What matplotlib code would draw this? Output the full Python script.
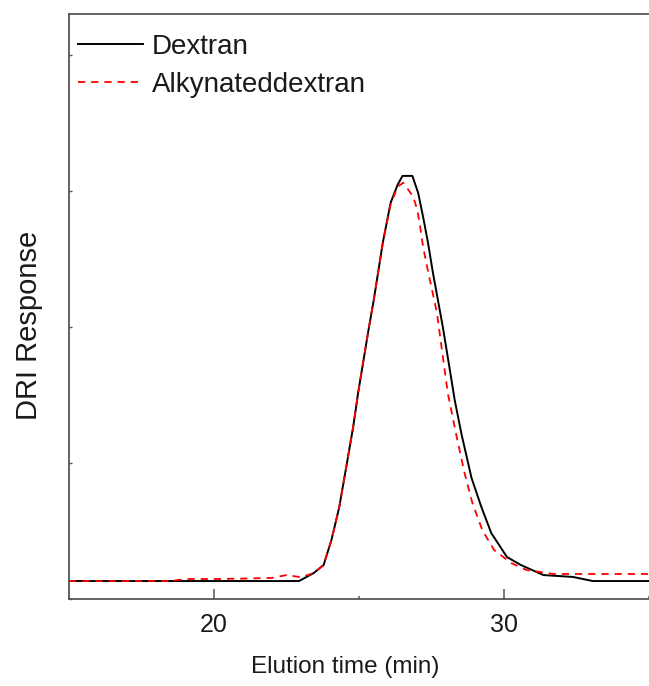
import matplotlib
matplotlib.use("Agg")
import matplotlib.pyplot as plt
import numpy as np

# ---- data ----
dextran_t = [15.0, 22.93, 23.44, 23.78, 24.05, 24.32, 24.56, 24.80, 24.97, 25.14,
             25.31, 25.51, 25.82, 26.09, 26.33, 26.50, 26.84, 27.04, 27.21, 27.38,
             27.55, 27.72, 27.89, 28.06, 28.30, 28.54, 28.88, 29.22, 29.56, 30.10,
             30.58, 31.36, 32.38, 33.06, 35.0]
dextran_r = [0.132, 0.132, 0.191, 0.25, 0.434, 0.676, 0.97, 1.265, 1.515, 1.735,
             1.956, 2.199, 2.618, 2.912, 3.044, 3.11, 3.11, 2.985, 2.809, 2.618,
             2.397, 2.199, 2.0, 1.779, 1.463, 1.206, 0.89, 0.676, 0.485, 0.309,
             0.25, 0.176, 0.162, 0.132, 0.132]

alk_t = [15.0, 18.5, 19.0, 20.0, 21.0, 22.0, 22.5, 23.0, 23.44, 23.78, 24.05,
         24.32, 24.56, 24.80, 24.97, 25.14, 25.31, 25.51, 25.82, 26.09, 26.33,
         26.53, 26.87, 27.01, 27.11, 27.21, 27.35, 27.52, 27.69, 27.86, 28.06,
         28.37, 28.64, 28.91, 29.25, 29.66, 30.24, 30.78, 31.70, 35.0]
alk_r = [0.132, 0.132, 0.147, 0.147, 0.15, 0.155, 0.176, 0.16, 0.191, 0.25, 0.434,
         0.676, 0.97, 1.265, 1.515, 1.735, 1.956, 2.199, 2.618, 2.90, 3.03,
         3.06, 2.956, 2.86, 2.735, 2.588, 2.44, 2.27, 2.10, 1.83, 1.515,
         1.19, 0.926, 0.706, 0.507, 0.36, 0.265, 0.213, 0.184, 0.184]

labels = ["Dextran", "Alkynateddextran"]
xticks_major = [20, 30]
xticks_minor = [15, 25, 35]
yticks = [0, 1, 2, 3, 4]

plt.rcParams["font.family"] = ["Liberation Sans", "DejaVu Sans"]
txt_color = "#1a1a1a"
spine_color = "#555555"

fig = plt.figure(figsize=(6.49, 6.86), dpi=100)
ax = fig.add_axes([69/649, 87/686, 580/649, 585/686])

ax.plot(dextran_t, dextran_r, color="black", lw=1.4, label=labels[0])
ax.plot(alk_t, alk_r, color="red", lw=1.3, ls=(0, (4, 3.3)), label=labels[1])

ax.set_xlim(15, 34.73)
ax.set_ylim(0, 4.30)

ax.set_xticks(xticks_major)
ax.set_xticks(xticks_minor, minor=True)
ax.set_yticks(yticks)
ax.set_yticklabels([])
ax.tick_params(axis="x", which="major", direction="in", length=7, width=1.1,
               color=spine_color, labelsize=18, labelcolor=txt_color, pad=10)
ax.tick_params(axis="x", which="minor", direction="in", length=2.5, width=1.1,
               color=spine_color)
ax.tick_params(axis="y", which="major", direction="in", length=2.5, width=1.0,
               color=spine_color)

for s in ["left", "bottom", "top"]:
    ax.spines[s].set_color(spine_color)
    ax.spines[s].set_linewidth(1.3)
ax.spines["right"].set_visible(False)

ax.set_xlabel("Elution time (min)", fontsize=17.5, color=txt_color)
ax.xaxis.set_label_coords(0.476, -0.097)
ax.set_ylabel("DRI Response", fontsize=21, color=txt_color)
ax.yaxis.set_label_coords(-0.044, 0.467)

ax.legend(loc="upper left", bbox_to_anchor=(0.0155, 0.966), frameon=False,
          fontsize=20, borderaxespad=0, borderpad=0, handlelength=2.34,
          handletextpad=0.32, labelspacing=0.44, labelcolor=txt_color)

fig.savefig("out.png", dpi=100)
